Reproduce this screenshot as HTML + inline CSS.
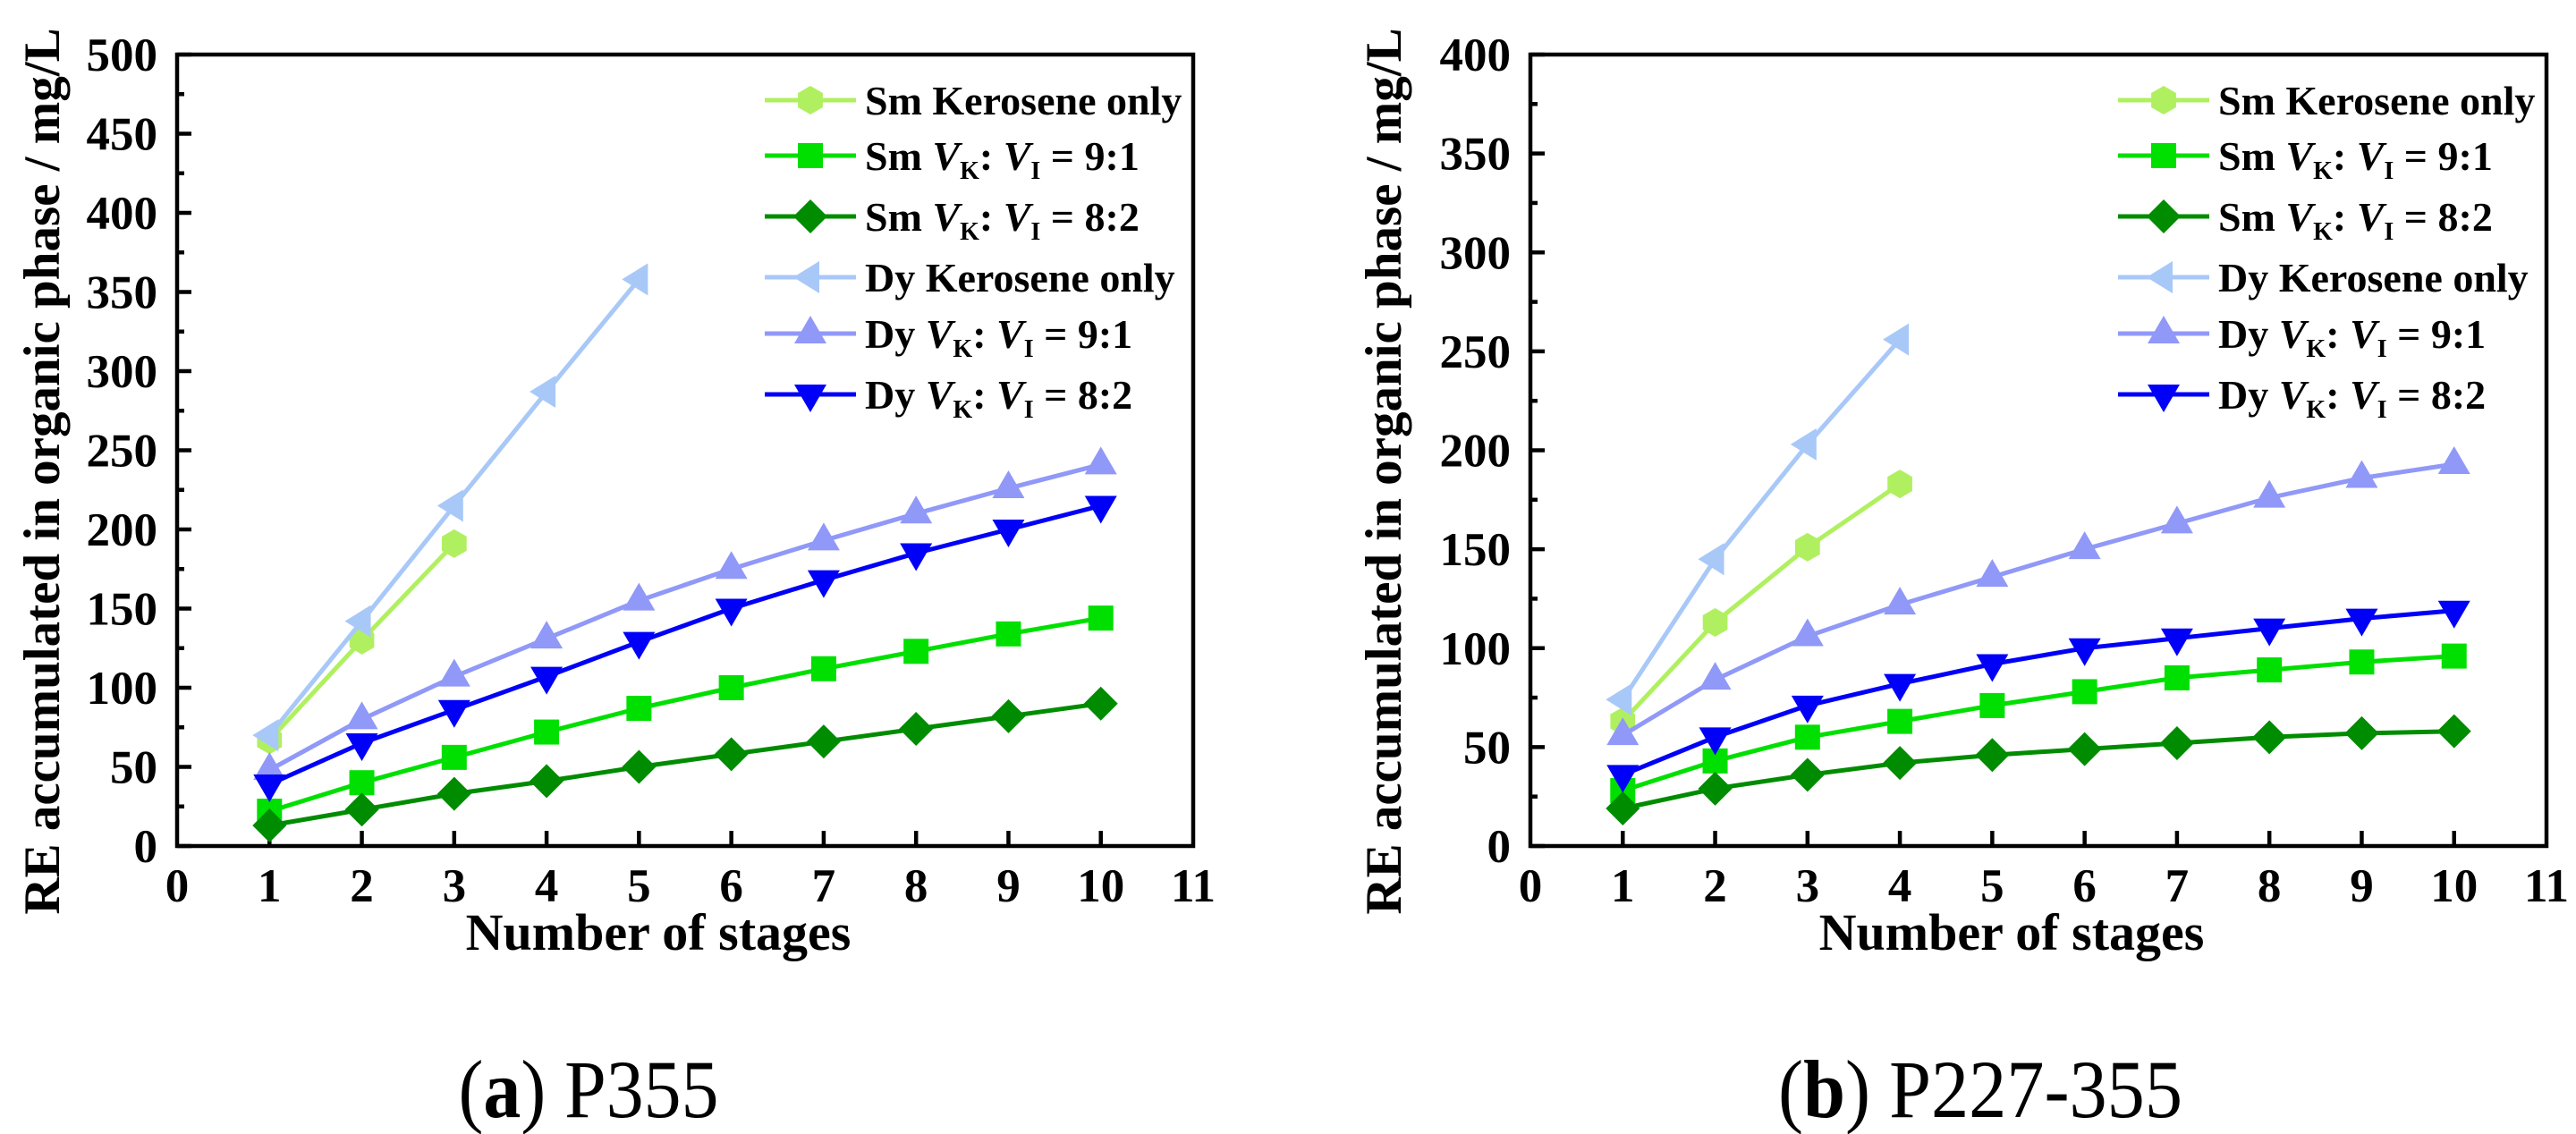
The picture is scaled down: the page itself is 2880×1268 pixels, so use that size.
<!DOCTYPE html>
<html><head><meta charset="utf-8">
<style>
html,body{margin:0;padding:0;background:#fff;}
svg{display:block;font-family:"Liberation Serif","DejaVu Serif","Times New Roman",serif;}
svg text{font-family:"Liberation Serif","DejaVu Serif","Times New Roman",serif;}
</style></head>
<body>
<svg id="fig" width="2880" height="1268" viewBox="0 0 2880 1268" font-family="Liberation Serif, DejaVu Serif, serif">
<rect x="0" y="0" width="2880" height="1268" fill="#fff"/>
</svg>
<script>
// ---- Data: chart (a) P355 ----
const stagesA = [1,2,3,4,5,6,7,8,9,10];
const aSmKero = [67,130,191];
const aSm91 = [22,40,56,72,87,100,112,123,134,144];
const aSm82 = [13,23,33,41,50,58,66,74,82,90];
const aDyKero = [70,142,215,287,358];
const aDy91 = [48,80,107,131,155,175,193,210,226,241];
const aDy82 = [39,65,86,107,129,150,168,185,200,215];
const aYTicks = [0,50,100,150,200,250,300,350,400,450,500];
// ---- Data: chart (b) P227-355 ----
const bSmKero = [63,113,151,183];
const bSm91 = [28,43,55,63,71,78,85,89,93,96];
const bSm82 = [19,29,36,42,46,49,52,55,57,58];
const bDyKero = [74,145,203,256];
const bDy91 = [56,84,106,122,136,150,163,176,186,193];
const bDy82 = [36,55,71,82,92,100,105,110,115,119];
const bYTicks = [0,50,100,150,200,250,300,350,400];
const xTicks = [0,1,2,3,4,5,6,7,8,9,10,11];

const NS = "http://www.w3.org/2000/svg";
const svg = document.getElementById('fig');
const FF = '"Liberation Serif","DejaVu Serif",serif';
function mk(tag, attrs, parent){
  const e = document.createElementNS(NS, tag);
  for (const k in attrs) e.setAttribute(k, attrs[k]);
  if (tag==='text') e.style.fontFamily = FF;
  (parent||svg).appendChild(e);
  return e;
}
const seriesStyle = [
  {name:'sm-kerosene-only', color:'#b0f060', marker:'hex'},
  {name:'sm-9-1', color:'#00e000', marker:'square'},
  {name:'sm-8-2', color:'#008c00', marker:'diamond'},
  {name:'dy-kerosene-only', color:'#a8c8f8', marker:'left'},
  {name:'dy-9-1', color:'#9098f8', marker:'up'},
  {name:'dy-8-2', color:'#0000f8', marker:'down'}
];
function marker(g, type, cx, cy, color){
  const s = 16;
  let e;
  if (type==='hex'){
    const pts=[];
    for(let i=0;i<6;i++){const a=Math.PI/6+i*Math.PI/3;pts.push((cx+s*Math.cos(a)).toFixed(1)+','+(cy+s*Math.sin(a)).toFixed(1));}
    e = mk('polygon',{points:pts.join(' '),fill:color},g);
  } else if (type==='square'){
    e = mk('rect',{x:cx-14,y:cy-14,width:28,height:28,fill:color},g);
  } else if (type==='diamond'){
    e = mk('polygon',{points:`${cx},${cy-19} ${cx+19},${cy} ${cx},${cy+19} ${cx-19},${cy}`,fill:color},g);
  } else if (type==='left'){
    e = mk('polygon',{points:`${cx-19},${cy} ${cx+10},${cy-18} ${cx+10},${cy+18}`,fill:color},g);
  } else if (type==='up'){
    e = mk('polygon',{points:`${cx},${cy-20} ${cx+18},${cy+11} ${cx-18},${cy+11}`,fill:color},g);
  } else {
    e = mk('polygon',{points:`${cx},${cy+20} ${cx+18},${cy-11} ${cx-18},${cy-11}`,fill:color},g);
  }
  
  
}
function legendLabel(g, x, y, prefix, ratio){
  const t = mk('text',{x:x,y:y,'font-size':46,'font-weight':'bold'},g);
  
  
  if (ratio===null){ t.textContent = prefix + ' Kerosene only'; return; }
  const add=(txt,attrs)=>{const s=mk('tspan',attrs||{},t);s.textContent=txt;return s;};
  add(prefix+' ');
  add('V',{'font-style':'italic'});
  add('K',{'font-size':28,dy:10});
  add(': ',{dy:-10});
  add('V',{'font-style':'italic'});
  add('I',{'font-size':28,dy:10});
  add(' = '+ratio,{dy:-10});
}
function chart(opts){
  const g = mk('g',{});
  
  
  const L=opts.left, T=61, B=946, W=1136, xmax=11, ymax=opts.ymax;
  const X = v => L + v/xmax*W;
  const Y = v => B - v/ymax*(B-T);
  const fr = mk('rect',{x:L,y:T,width:W,height:B-T,fill:'none',stroke:'#000','stroke-width':4.5},g);
  
  
  opts.yTicks.forEach((v,i)=>{
    const y=Y(v);
    const tk = mk('line',{x1:L,x2:L+16,y1:y,y2:y,stroke:'#000','stroke-width':4.5},g);
    
    
    if(i<opts.yTicks.length-1){
      const ym=Y(v+25);
      const mt=mk('line',{x1:L,x2:L+8,y1:ym,y2:ym,stroke:'#000','stroke-width':4.5},g);
      
      
    }
    const lb = mk('text',{x:L-22,y:y+18,'font-size':53,'font-weight':'bold','text-anchor':'end'},g);
    
    
    lb.textContent=v;
  });
  xTicks.forEach(v=>{
    const x=X(v);
    if(v>0&&v<11){
      const tk=mk('line',{x1:x,x2:x,y1:B,y2:B-17,stroke:'#000','stroke-width':4.5},g);
      
      
    }
    const lb=mk('text',{x:x,y:1008,'font-size':53,'font-weight':'bold','text-anchor':'middle'},g);
    
    
    lb.textContent=v;
  });
  const xt=mk('text',{x:L+W/2-30,y:1062,'font-size':58,'font-weight':'bold','text-anchor':'middle'},g);
  
  
  xt.textContent='Number of stages';
  const yt=mk('text',{x:0,y:0,'font-size':57,'font-weight':'bold','text-anchor':'middle',transform:`translate(${opts.ytx},527) rotate(-90)`},g);
  
  
  yt.textContent='RE accumulated in organic phase / mg/L';
  opts.series.forEach((vals,si)=>{
    const st=seriesStyle[si];
    const sg=mk('g',{},g);
    
    
    const pts=vals.map((v,i)=>X(stagesA[i]).toFixed(1)+','+Y(v).toFixed(1)).join(' ');
    const pl=mk('polyline',{points:pts,fill:'none',stroke:st.color,'stroke-width':5,'stroke-linejoin':'round'},sg);
    
    
    vals.forEach((v,i)=>marker(sg,st.marker,X(stagesA[i]),Y(v),st.color));
  });
  const lg=mk('g',{},g);
  
  
  const rows=[112,174,242,310,373,441];
  const prefixes=['Sm','Sm','Sm','Dy','Dy','Dy'];
  const ratios=[null,'9:1','8:2',null,'9:1','8:2'];
  rows.forEach((ry,i)=>{
    const st=seriesStyle[i];
    const eg=mk('g',{},lg);
    
    
    const ln=mk('line',{x1:opts.lgx,x2:opts.lgx+102,y1:ry,y2:ry,stroke:st.color,'stroke-width':5},eg);
    
    
    marker(eg,st.marker,opts.lgx+51,ry,st.color);
    legendLabel(eg,opts.lgx+112,ry+16,prefixes[i],ratios[i]);
  });
  const cp=mk('text',{x:opts.capx,y:1249,'font-size':92,'text-anchor':'middle',textLength:opts.capw,lengthAdjust:'spacingAndGlyphs'},svg);
  
  
  const c1=mk('tspan',{},cp); c1.textContent='(';
  const c2=mk('tspan',{'font-weight':'bold'},cp); c2.textContent=opts.capLetter;
  const c3=mk('tspan',{},cp); c3.textContent=') '+opts.capText;
}
chart({name:'chart-a-p355',left:198,ymax:500,yTicks:aYTicks,ytx:66,lgx:855,
  series:[aSmKero,aSm91,aSm82,aDyKero,aDy91,aDy82],capx:658,capw:291,capLetter:'a',capText:'P355'});
chart({name:'chart-b-p227-355',left:1711,ymax:400,yTicks:bYTicks,ytx:1566,lgx:2368,
  series:[bSmKero,bSm91,bSm82,bDyKero,bDy91,bDy82],capx:2214,capw:452,capLetter:'b',capText:'P227-355'});
</script>
</body></html>
